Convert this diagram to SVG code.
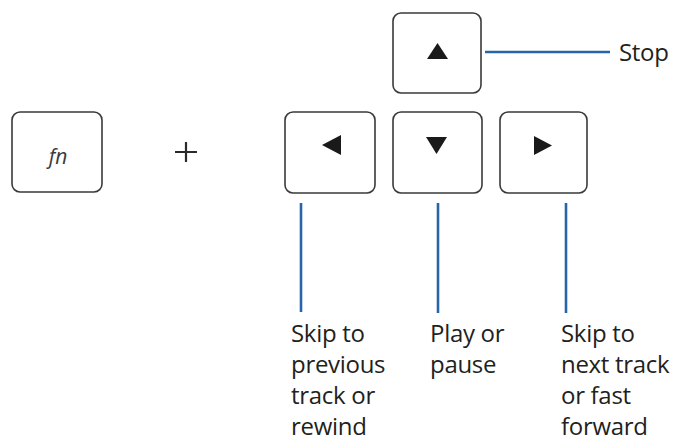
<svg xmlns="http://www.w3.org/2000/svg" width="679" height="444" viewBox="0 0 679 444">
<style>
.key{fill:#fff;stroke:#3a3a3a;stroke-width:1.6}
.tri{fill:#1a1a1a}
.lbl{font-family:"Open Sans","Liberation Sans",sans-serif;font-size:24px;fill:#231f20;letter-spacing:-0.3px}
.con{stroke:#2a64a8;stroke-width:2.6;fill:none}
</style>
<rect width="679" height="444" fill="#fff"/>
<g id="key-fn">
<rect class="key" x="12" y="112" width="90" height="80" rx="8"/>
<text x="58" y="164" text-anchor="middle" style="font-family:'Open Sans','Liberation Sans',sans-serif;font-style:italic;font-size:21px;fill:#3a3a3a">fn</text>
</g>
<g id="plus">
<path d="M175 152H197M186 142V162" stroke="#2a2a2a" stroke-width="2.2" fill="none"/>
</g>
<g id="key-up">
<rect class="key" x="393" y="13" width="88" height="80" rx="8"/>
<polygon class="tri" points="437.5,43 427,59 448,59"/>
</g>
<g id="key-left">
<rect class="key" x="285" y="112" width="90" height="81" rx="8"/>
<polygon class="tri" points="322,145 341,135 341,155"/>
</g>
<g id="key-down">
<rect class="key" x="393" y="112" width="89" height="81" rx="8"/>
<polygon class="tri" points="426,137 447,137 436.5,154"/>
</g>
<g id="key-right">
<rect class="key" x="500" y="112" width="87" height="81" rx="8"/>
<polygon class="tri" points="534,136 552,145.5 534,155"/>
</g>
<g id="connectors">
<line class="con" x1="485" y1="52" x2="610" y2="52"/>
<line class="con" x1="301" y1="203" x2="301" y2="312"/>
<line class="con" x1="438" y1="203" x2="438" y2="313"/>
<line class="con" x1="566" y1="203" x2="566" y2="313"/>
</g>
<g id="label-stop">
<text class="lbl" x="619" y="61">Stop</text>
</g>
<g id="label-prev">
<text class="lbl" x="291" y="342">Skip to</text>
<text class="lbl" x="291" y="373">previous</text>
<text class="lbl" x="291" y="404">track or</text>
<text class="lbl" x="291" y="435">rewind</text>
</g>
<g id="label-play">
<text class="lbl" x="430" y="342">Play or</text>
<text class="lbl" x="430" y="373">pause</text>
</g>
<g id="label-next">
<text class="lbl" x="561" y="342">Skip to</text>
<text class="lbl" x="561" y="373">next track</text>
<text class="lbl" x="561" y="404">or fast</text>
<text class="lbl" x="561" y="435">forward</text>
</g>
</svg>
